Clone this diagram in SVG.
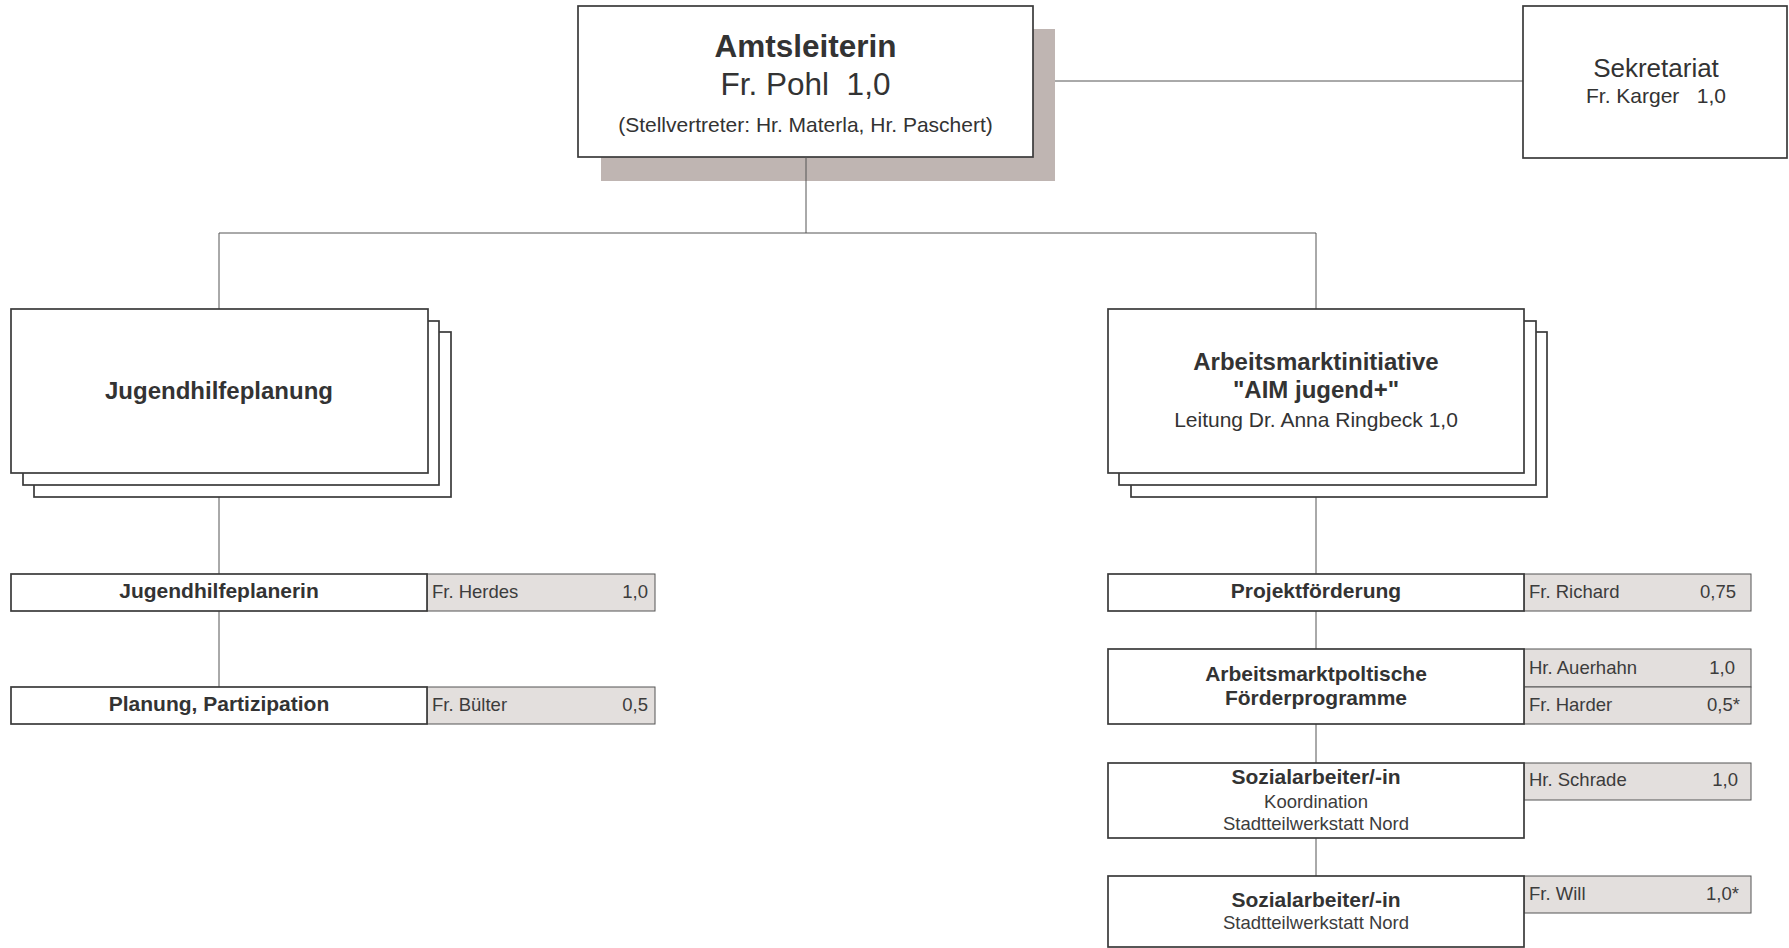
<svg xmlns="http://www.w3.org/2000/svg" width="1789" height="948" viewBox="0 0 1789 948">
<style>
text{font-family:"Liberation Sans",Arial,sans-serif;fill:#333;}
.b{font-weight:bold;}
.c{text-anchor:middle;}
.e{text-anchor:end;}
.box{fill:#fff;stroke:#3a3a3a;stroke-width:1.7;}
.cell{fill:#e3dfdd;stroke:#555;stroke-width:1;}
.ln{stroke:#555;stroke-width:1;fill:none;}
.s18{font-size:18.5px;fill:#3c3c3c;}
.s21{font-size:21px;}
</style>
<rect width="1789" height="948" fill="#fff"/>
<g id="connectors">
<line class="ln" x1="1033" y1="81" x2="1523" y2="81"/>
<line class="ln" x1="806" y1="157" x2="806" y2="233"/>
<line class="ln" x1="219" y1="233" x2="1316" y2="233"/>
<line class="ln" x1="219" y1="233" x2="219" y2="309"/>
<line class="ln" x1="1316" y1="233" x2="1316" y2="309"/>
<line class="ln" x1="219" y1="497" x2="219" y2="574"/>
<line class="ln" x1="219" y1="611" x2="219" y2="687"/>
<line class="ln" x1="1316" y1="497" x2="1316" y2="574"/>
<line class="ln" x1="1316" y1="611" x2="1316" y2="649"/>
<line class="ln" x1="1316" y1="724" x2="1316" y2="763"/>
<line class="ln" x1="1316" y1="838" x2="1316" y2="876"/>
</g>
<g id="amtsleiterin">
<rect x="601" y="29" width="454" height="152" fill="#bfb5b2"/>
<rect class="box" x="578" y="6" width="455" height="151"/>
<line class="ln" x1="806" y1="157" x2="806" y2="181"/>
<text class="b c" x="805.5" y="57" font-size="31.5">Amtsleiterin</text>
<text class="c" x="805.5" y="95" font-size="31.5" xml:space="preserve">Fr. Pohl  1,0</text>
<text class="c s21" x="805.5" y="132">(Stellvertreter: Hr. Materla, Hr. Paschert)</text>
</g>
<g id="sekretariat">
<rect class="box" x="1523" y="6" width="264" height="152"/>
<text class="c" x="1656" y="77" font-size="26">Sekretariat</text>
<text class="c s21" x="1656" y="103" xml:space="preserve">Fr. Karger   1,0</text>
</g>
<g id="jugendhilfeplanung">
<rect class="box" x="34" y="332" width="417" height="165"/>
<rect class="box" x="23" y="321" width="416" height="164"/>
<rect class="box" x="11" y="309" width="417" height="164"/>
<text class="b c" x="219" y="399" font-size="24">Jugendhilfeplanung</text>
</g>
<g id="aim">
<rect class="box" x="1131" y="332" width="416" height="165"/>
<rect class="box" x="1119" y="321" width="417" height="164"/>
<rect class="box" x="1108" y="309" width="416" height="164"/>
<text class="b c" x="1316" y="370" font-size="24">Arbeitsmarktinitiative</text>
<text class="b c" x="1316" y="398" font-size="24">"AIM jugend+"</text>
<text class="c s21" x="1316" y="427">Leitung Dr. Anna Ringbeck 1,0</text>
</g>
<g id="jugendhilfeplanerin">
<rect class="cell" x="427" y="574" width="228" height="37"/>
<rect class="box" x="11" y="574" width="416" height="37"/>
<text class="b c s21" x="219" y="598">Jugendhilfeplanerin</text>
<text class="s18" x="432" y="598">Fr. Herdes</text>
<text class="s18 e" x="648" y="598">1,0</text>
</g>
<g id="planung">
<rect class="cell" x="427" y="687" width="228" height="37"/>
<rect class="box" x="11" y="687" width="416" height="37"/>
<text class="b c s21" x="219" y="711">Planung, Partizipation</text>
<text class="s18" x="432" y="711">Fr. Bülter</text>
<text class="s18 e" x="648" y="711">0,5</text>
</g>
<g id="projektfoerderung">
<rect class="cell" x="1524" y="574" width="227" height="37"/>
<rect class="box" x="1108" y="574" width="416" height="37"/>
<text class="b c s21" x="1316" y="598">Projektförderung</text>
<text class="s18" x="1529" y="598">Fr. Richard</text>
<text class="s18 e" x="1736" y="598">0,75</text>
</g>
<g id="foerderprogramme">
<rect class="cell" x="1524" y="649" width="227" height="38"/>
<rect class="cell" x="1524" y="687" width="227" height="37"/>
<rect class="box" x="1108" y="649" width="416" height="75"/>
<text class="b c s21" x="1316" y="681">Arbeitsmarktpoltische</text>
<text class="b c s21" x="1316" y="705">Förderprogramme</text>
<text class="s18" x="1529" y="674">Hr. Auerhahn</text>
<text class="s18 e" x="1735" y="674">1,0</text>
<text class="s18" x="1529" y="711">Fr. Harder</text>
<text class="s18 e" x="1740" y="711">0,5*</text>
</g>
<g id="sozialarbeiter1">
<rect class="cell" x="1524" y="763" width="227" height="37"/>
<rect class="box" x="1108" y="763" width="416" height="75"/>
<text class="b c s21" x="1316" y="784">Sozialarbeiter/-in</text>
<text class="c s18" x="1316" y="808">Koordination</text>
<text class="c s18" x="1316" y="830">Stadtteilwerkstatt Nord</text>
<text class="s18" x="1529" y="786">Hr. Schrade</text>
<text class="s18 e" x="1738" y="786">1,0</text>
</g>
<g id="sozialarbeiter2">
<rect class="cell" x="1524" y="876" width="227" height="37"/>
<rect class="box" x="1108" y="876" width="416" height="71"/>
<text class="b c s21" x="1316" y="907">Sozialarbeiter/-in</text>
<text class="c s18" x="1316" y="929">Stadtteilwerkstatt Nord</text>
<text class="s18" x="1529" y="900">Fr. Will</text>
<text class="s18 e" x="1739" y="900">1,0*</text>
</g>
</svg>
